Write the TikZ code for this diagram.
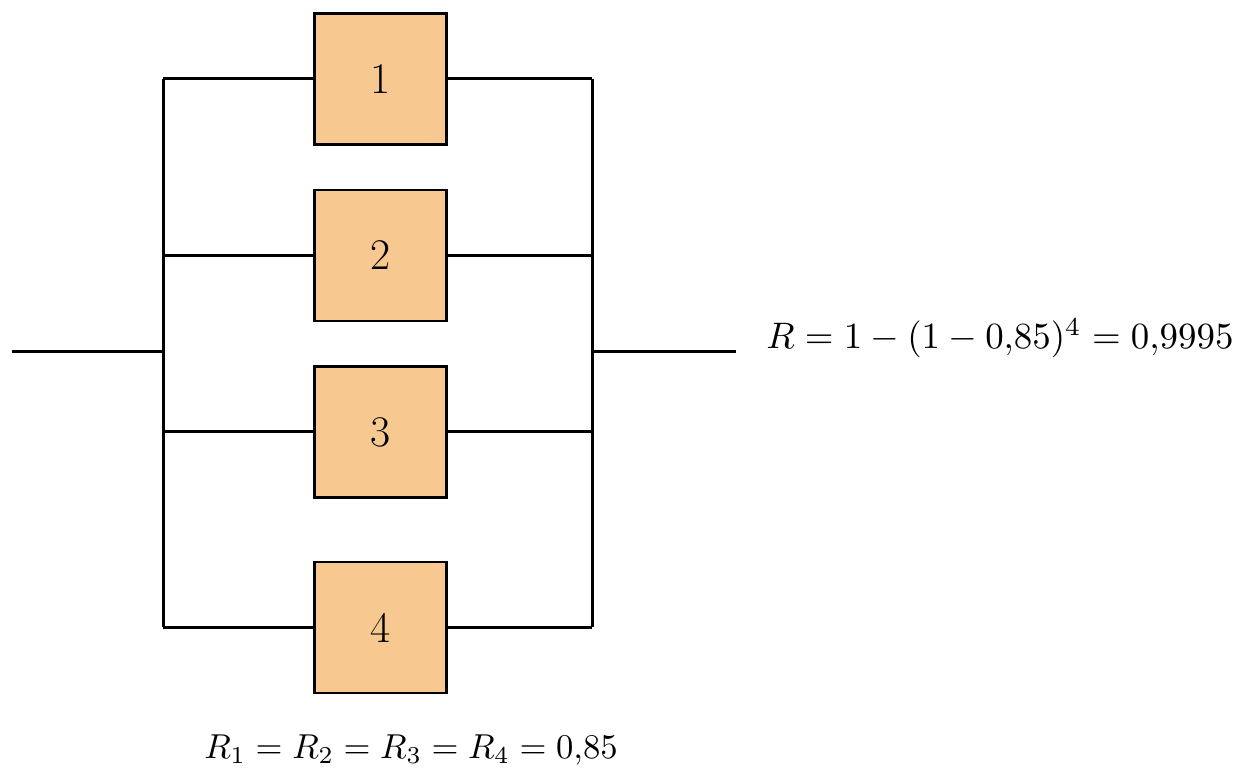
\documentclass[tikz,border=0pt]{standalone}
\usepackage{amsmath}
\usepackage{graphicx}
\definecolor{boxfill}{RGB}{247,201,145}
\begin{document}
\begin{tikzpicture}[x=0.02cm,y=-0.02cm,
  wire/.style={line width=0.06cm},
  block/.style={draw, line width=0.05cm, fill=boxfill, minimum width=2.64cm, minimum height=2.62cm, inner sep=0pt, font=\fontsize{24.88}{30}\selectfont},
  eq/.style={inner sep=0pt, font=\fontsize{10}{12}\selectfont}]
\useasboundingbox (0,0) rectangle (1242,773);
\node[block] (b1) at (380.5,79) {1};
\node[block] (b2) at (380.5,255.5) {2};
\node[block] (b3) at (380.5,432) {3};
\node[block] (b4) at (380.5,627.5) {4};
\coordinate (lt) at (163,79);
\coordinate (lb) at (163,627.5);
\coordinate (rt) at (592,79);
\coordinate (rb) at (592,627.5);
\coordinate (lm) at (163,352);
\coordinate (rm) at (592,352);
\coordinate (in) at (12,352);
\coordinate (out) at (736,352);
\draw[wire] (lt) -- (lb);
\draw[wire] (rt) -- (rb);
\draw[wire] (in) -- (lm);
\draw[wire] (rm) -- (out);
\foreach \b in {b1,b2,b3,b4}{
  \draw[wire] (lm |- \b.west) -- (\b.west);
  \draw[wire] (\b.east) -- (rm |- \b.east);
}
\node[eq, anchor=west] (r) at (766,338) {\scalebox{2.1}{$R = 1 - (1 - 0{,}85)^4 = 0{,}9995$}};
\node[eq] (ri) at (411,750) {\scalebox{1.97}{$R_1 = R_2 = R_3 = R_4 = 0{,}85$}};
\end{tikzpicture}
\end{document}
